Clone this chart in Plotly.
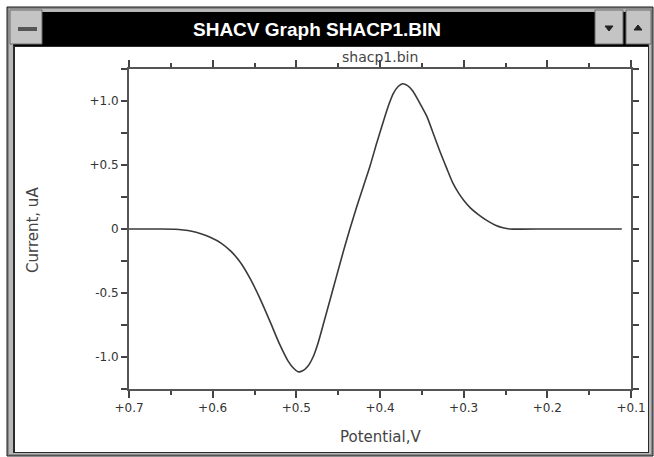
import plotly.graph_objects as go

# ---- data ----
potential_v = [0.700, 0.660, 0.645, 0.635, 0.625, 0.615, 0.603, 0.590, 0.578, 0.567,
               0.555, 0.543, 0.531, 0.520, 0.510, 0.503, 0.498, 0.493, 0.486, 0.480,
               0.474, 0.468, 0.460, 0.452, 0.444, 0.436, 0.428, 0.420, 0.412, 0.404,
               0.396, 0.389, 0.384, 0.378, 0.373, 0.367, 0.361, 0.353, 0.344, 0.336,
               0.328, 0.320, 0.313, 0.306, 0.300, 0.292, 0.282, 0.272, 0.262, 0.253,
               0.245, 0.200, 0.150, 0.111]
current_ua = [0.000, 0.000, -0.002, -0.008, -0.018, -0.035, -0.065, -0.110, -0.175, -0.260,
              -0.390, -0.550, -0.730, -0.900, -1.030, -1.090, -1.115, -1.110, -1.070, -1.000,
              -0.890, -0.750, -0.560, -0.370, -0.180, 0.000, 0.170, 0.330, 0.490, 0.670,
              0.840, 0.980, 1.060, 1.115, 1.135, 1.120, 1.080, 0.990, 0.880, 0.740,
              0.600, 0.470, 0.360, 0.280, 0.225, 0.165, 0.110, 0.065, 0.030, 0.010,
              0.000, 0.000, 0.000, 0.000]

x_tickvals = [0.7, 0.6, 0.5, 0.4, 0.3, 0.2, 0.1]
x_ticktext = ["+0.7", "+0.6", "+0.5", "+0.4", "+0.3", "+0.2", "+0.1"]
y_tickvals = [1.0, 0.5, 0.0, -0.5, -1.0]
y_ticktext = ["+1.0", "+0.5", "0", "-0.5", "-1.0"]

window_title = "SHACV Graph SHACP1.BIN"
plot_title = "shacp1.bin"
x_title = "Potential,V"
y_title = "Current, uA"

W, H = 654, 457


def px(x):
    return x / W


def py(y):
    return 1 - y / H


fig = go.Figure()
fig.add_trace(go.Scatter(
    x=potential_v, y=current_ua, mode="lines",
    line=dict(color="#3a3a3a", width=1.6, shape="spline", smoothing=0.6),
    hoverinfo="skip"))

tickfont = dict(family="DejaVu Sans", size=12, color="#333")

fig.update_layout(
    template="none",
    width=W, height=H, autosize=False,
    margin=dict(l=0, r=0, t=0, b=0, pad=0),
    paper_bgcolor="white", plot_bgcolor="rgba(0,0,0,0)",
    showlegend=False,
    xaxis=dict(
        domain=[px(129), px(631)], range=[0.7, 0.1], automargin=False,
        tickvals=x_tickvals, ticktext=x_ticktext,
        ticks="outside", ticklen=7, tickwidth=1.5, tickcolor="#444",
        minor=dict(dtick=0.05, ticks="outside", ticklen=4, tickwidth=1.5, tickcolor="#444"),
        showline=True, linecolor="#555", linewidth=2, mirror="ticks",
        showgrid=False, zeroline=False, tickfont=tickfont,
    ),
    yaxis=dict(
        domain=[py(389), py(69)], range=[-1.25, 1.25], automargin=False,
        tickvals=y_tickvals, ticktext=y_ticktext,
        ticks="outside", ticklen=6, tickwidth=1.5, tickcolor="#444",
        minor=dict(dtick=0.25, ticks="outside", ticklen=6, tickwidth=1.5, tickcolor="#444"),
        showline=True, linecolor="#555", linewidth=2, mirror="ticks",
        showgrid=False, zeroline=False, tickfont=tickfont,
    ),
)

shapes = []


def rect(x0, y0, x1, y1, fill, line=None, lw=0):
    shapes.append(dict(type="rect", xref="paper", yref="paper", layer="below",
                       x0=px(x0), x1=px(x1), y0=py(y1), y1=py(y0),
                       fillcolor=fill, line=dict(color=line or fill, width=lw)))


# window frame
rect(7, 7, 653, 456, "#8a8a8a", "#1a1a1a", 1)
rect(9, 9, 651, 454, "#b8b8b8")
rect(13, 12, 649, 453, "#2a2a2a")
rect(15, 47, 648, 452, "white")
# title bar
rect(14, 12, 648, 46, "black")
# buttons
for (x0, x1) in [(10, 42), (595, 623), (626, 651)]:
    rect(x0, 10, x1, 44, "#c4c4c4", "#6a6a6a", 1)
rect(18, 27, 37, 31, "#555555")


def tri(points):
    path = "M " + " L ".join(f"{px(a)},{py(b)}" for a, b in points) + " Z"
    shapes.append(dict(type="path", xref="paper", yref="paper", layer="below",
                       path=path, fillcolor="#222", line=dict(color="#222", width=1)))


tri([(605, 26), (613, 26), (609, 31)])
tri([(634, 30), (642, 30), (638, 25)])

fig.update_layout(shapes=shapes)

annotations = [
    dict(text=f"<b>{window_title}</b>", x=px(317), y=py(29),
         font=dict(family="Liberation Sans", size=19, color="white")),
    dict(text=plot_title, x=px(380), y=py(57),
         font=dict(family="DejaVu Sans", size=14, color="#444")),
    dict(text=x_title, x=px(380), y=py(437),
         font=dict(family="DejaVu Sans", size=15, color="#444")),
    dict(text=y_title, x=px(33), y=py(230), textangle=-90,
         font=dict(family="DejaVu Sans", size=15, color="#444")),
]
for a in annotations:
    a.update(xref="paper", yref="paper", showarrow=False, xanchor="center", yanchor="middle")
fig.update_layout(annotations=annotations)

fig.write_html(
    "out.html",
    config={"displayModeBar": False},
    post_script="document.body.style.margin='0';document.body.style.overflow='hidden';",
)
